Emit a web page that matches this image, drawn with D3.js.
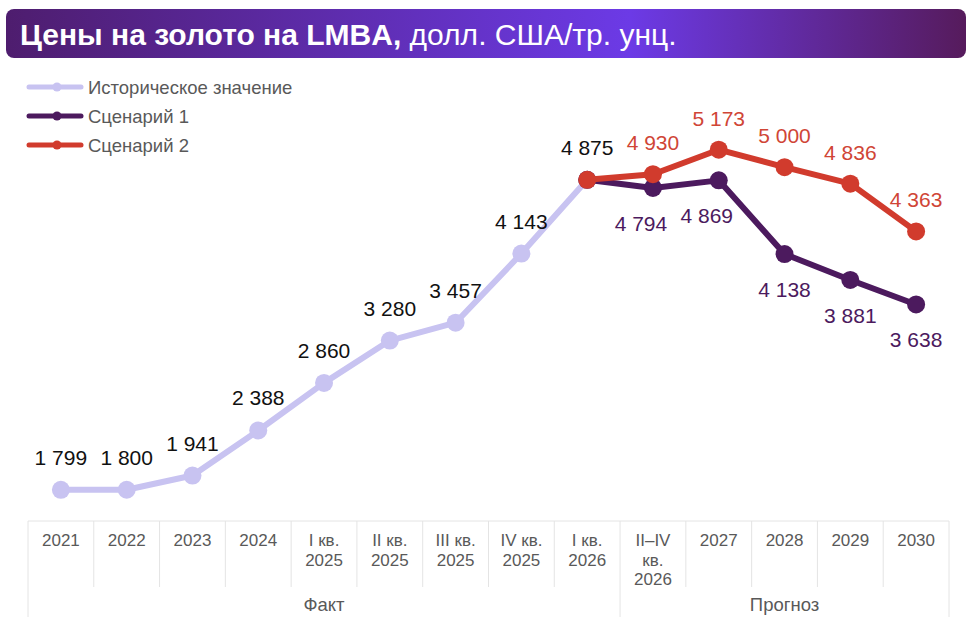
<!DOCTYPE html>
<html>
<head>
<meta charset="utf-8">
<script src="https://cdn.jsdelivr.net/npm/d3@7"></script>
<style>
  body { margin: 0; background: #fff; }
  svg { font-family: "Liberation Sans", Arial, sans-serif; }
</style>
</head>
<body>
<div id="chart"></div>
<script>
var width = 974, height = 634;

// categories (line breaks as in the picture)
var categories = ["2021", "2022", "2023", "2024", "I кв.\n2025", "II кв.\n2025", "III кв.\n2025",
  "IV кв.\n2025", "I кв.\n2026", "II–IV\nкв.\n2026", "2027", "2028", "2029", "2030"];
var histCats = categories.slice(0, 9);
var histValues = [1799, 1800, 1941, 2388, 2860, 3280, 3457, 4143, 4875];
var scenCats = categories.slice(8);
var scen1Values = [4875, 4794, 4869, 4138, 3881, 3638];
var scen2Values = [4875, 4930, 5173, 5000, 4836, 4363];
var groups = [
  { name: "Факт", from: 0, to: 8 },
  { name: "Прогноз", from: 9, to: 13 }
];
var legendNames = ["Историческое значение", "Сценарий 1", "Сценарий 2"];
var colors = { hist: "#c8c3f1", s1: "#4c1a5e", s2: "#d13b2d" };

var fmt = function(v) { return d3.format(",")(v).replace(/,/g, " "); };

var svg = d3.select("#chart").append("svg")
  .attr("width", width)
  .attr("height", height);

// title bar
var defs = svg.append("defs");
var grad = defs.append("linearGradient").attr("id", "titleGrad");
grad.append("stop").attr("offset", "0%").attr("stop-color", "#4e1d6e");
grad.append("stop").attr("offset", "65%").attr("stop-color", "#6c3ae6");
grad.append("stop").attr("offset", "100%").attr("stop-color", "#561b5c");

svg.append("rect")
  .attr("x", 6).attr("y", 9)
  .attr("width", 960).attr("height", 49)
  .attr("rx", 8)
  .attr("fill", "url(#titleGrad)");

var title = svg.append("text")
  .attr("x", 20).attr("y", 45)
  .attr("fill", "#fff")
  .style("font-size", "30px");
title.append("tspan").style("font-weight", "bold").text("Цены на золото на LMBA,");
title.append("tspan").text(" долл. США/тр. унц.");

// scales
var x = d3.scaleBand().domain(categories).range([28, 949]);
var y = d3.scaleLinear().domain([1500, 5200]).range([520, 147]);
var cx = function(c) { return x(c) + x.bandwidth() / 2; };

// table under the chart
var tableTop = 521, colBottom = 587, groupBottom = 617;
var grid = svg.append("g").attr("stroke", "#e4e4e4").attr("stroke-width", 1);
grid.append("line")
  .attr("x1", x.range()[0]).attr("x2", x.range()[1])
  .attr("y1", tableTop).attr("y2", tableTop);
var edges = categories.map(function(c) { return x(c); }).concat([x.range()[1]]);
grid.selectAll(".col")
  .data(edges)
  .enter().append("line")
  .attr("x1", function(d) { return d; })
  .attr("x2", function(d) { return d; })
  .attr("y1", tableTop)
  .attr("y2", function(d, i) {
    var isGroupEdge = i === 0 || i === edges.length - 1 || groups.some(function(g) { return g.from === i; });
    return isGroupEdge ? groupBottom : colBottom;
  });

var axis = svg.append("g")
  .attr("transform", "translate(0," + tableTop + ")")
  .call(d3.axisBottom(x).tickSize(0).tickFormat(""));
axis.select(".domain").remove();
axis.selectAll(".tick text").remove();
axis.selectAll(".tick").append("text")
  .attr("fill", "#595959")
  .attr("text-anchor", "middle")
  .style("font-size", "17px")
  .each(function(d) {
    var lines = d.split("\n");
    var t = d3.select(this);
    lines.forEach(function(l, i) {
      t.append("tspan").attr("x", 0).attr("y", 25 + i * 19.6).text(l);
    });
  });

svg.selectAll(".group")
  .data(groups)
  .enter().append("text")
  .attr("x", function(g) { return (x(categories[g.from]) + x(categories[g.to]) + x.bandwidth()) / 2; })
  .attr("y", 611)
  .attr("text-anchor", "middle")
  .attr("fill", "#595959")
  .style("font-size", "18.5px")
  .text(function(g) { return g.name; });

// lines
var line = d3.line()
  .x(function(d) { return cx(d.c); })
  .y(function(d) { return y(d.v); });

var series = [
  { key: "hist", color: colors.hist, data: histCats.map(function(c, i) { return { c: c, v: histValues[i] }; }) },
  { key: "s1", color: colors.s1, data: scenCats.map(function(c, i) { return { c: c, v: scen1Values[i] }; }) },
  { key: "s2", color: colors.s2, data: scenCats.map(function(c, i) { return { c: c, v: scen2Values[i] }; }) }
];

series.forEach(function(s) {
  var g = svg.append("g");
  g.append("path")
    .datum(s.data)
    .attr("fill", "none")
    .attr("stroke", s.color)
    .attr("stroke-width", 6)
    .attr("stroke-linejoin", "round")
    .attr("d", line);
  g.selectAll("circle")
    .data(s.data)
    .enter().append("circle")
    .attr("cx", function(d) { return cx(d.c); })
    .attr("cy", function(d) { return y(d.v); })
    .attr("r", 9)
    .attr("fill", s.color);
});

// value labels
svg.append("g").selectAll("text")
  .data(series[0].data)
  .enter().append("text")
  .attr("x", function(d) { return cx(d.c); })
  .attr("y", function(d) { return y(d.v) - 25; })
  .attr("text-anchor", "middle")
  .attr("fill", "#111")
  .style("font-size", "21px")
  .text(function(d) { return fmt(d.v); });

svg.append("g").selectAll("text")
  .data(series[1].data.slice(1))
  .enter().append("text")
  .attr("x", function(d, i) { return cx(d.c) - (i < 2 ? 12 : 0); })
  .attr("y", function(d) { return y(d.v) + 43; })
  .attr("text-anchor", "middle")
  .attr("fill", colors.s1)
  .style("font-size", "21px")
  .text(function(d) { return fmt(d.v); });

svg.append("g").selectAll("text")
  .data(series[2].data.slice(1))
  .enter().append("text")
  .attr("x", function(d) { return cx(d.c); })
  .attr("y", function(d) { return y(d.v) - 24; })
  .attr("text-anchor", "middle")
  .attr("fill", "#d04536")
  .style("font-size", "21px")
  .text(function(d) { return fmt(d.v); });

// legend
var legend = svg.append("g").selectAll("g")
  .data(series)
  .enter().append("g")
  .attr("transform", function(d, i) { return "translate(29," + (87 + i * 29) + ")"; });
legend.append("line")
  .attr("x1", 0).attr("x2", 52)
  .attr("stroke", function(d) { return d.color; })
  .attr("stroke-width", 5)
  .attr("stroke-linecap", "round");
legend.append("circle")
  .attr("cx", 28).attr("r", 4.5)
  .attr("fill", function(d) { return d.color; });
legend.append("text")
  .attr("x", 59).attr("y", 6.5)
  .attr("fill", "#595959")
  .style("font-size", "18.5px")
  .text(function(d, i) { return legendNames[i]; });
</script>
</body>
</html>
